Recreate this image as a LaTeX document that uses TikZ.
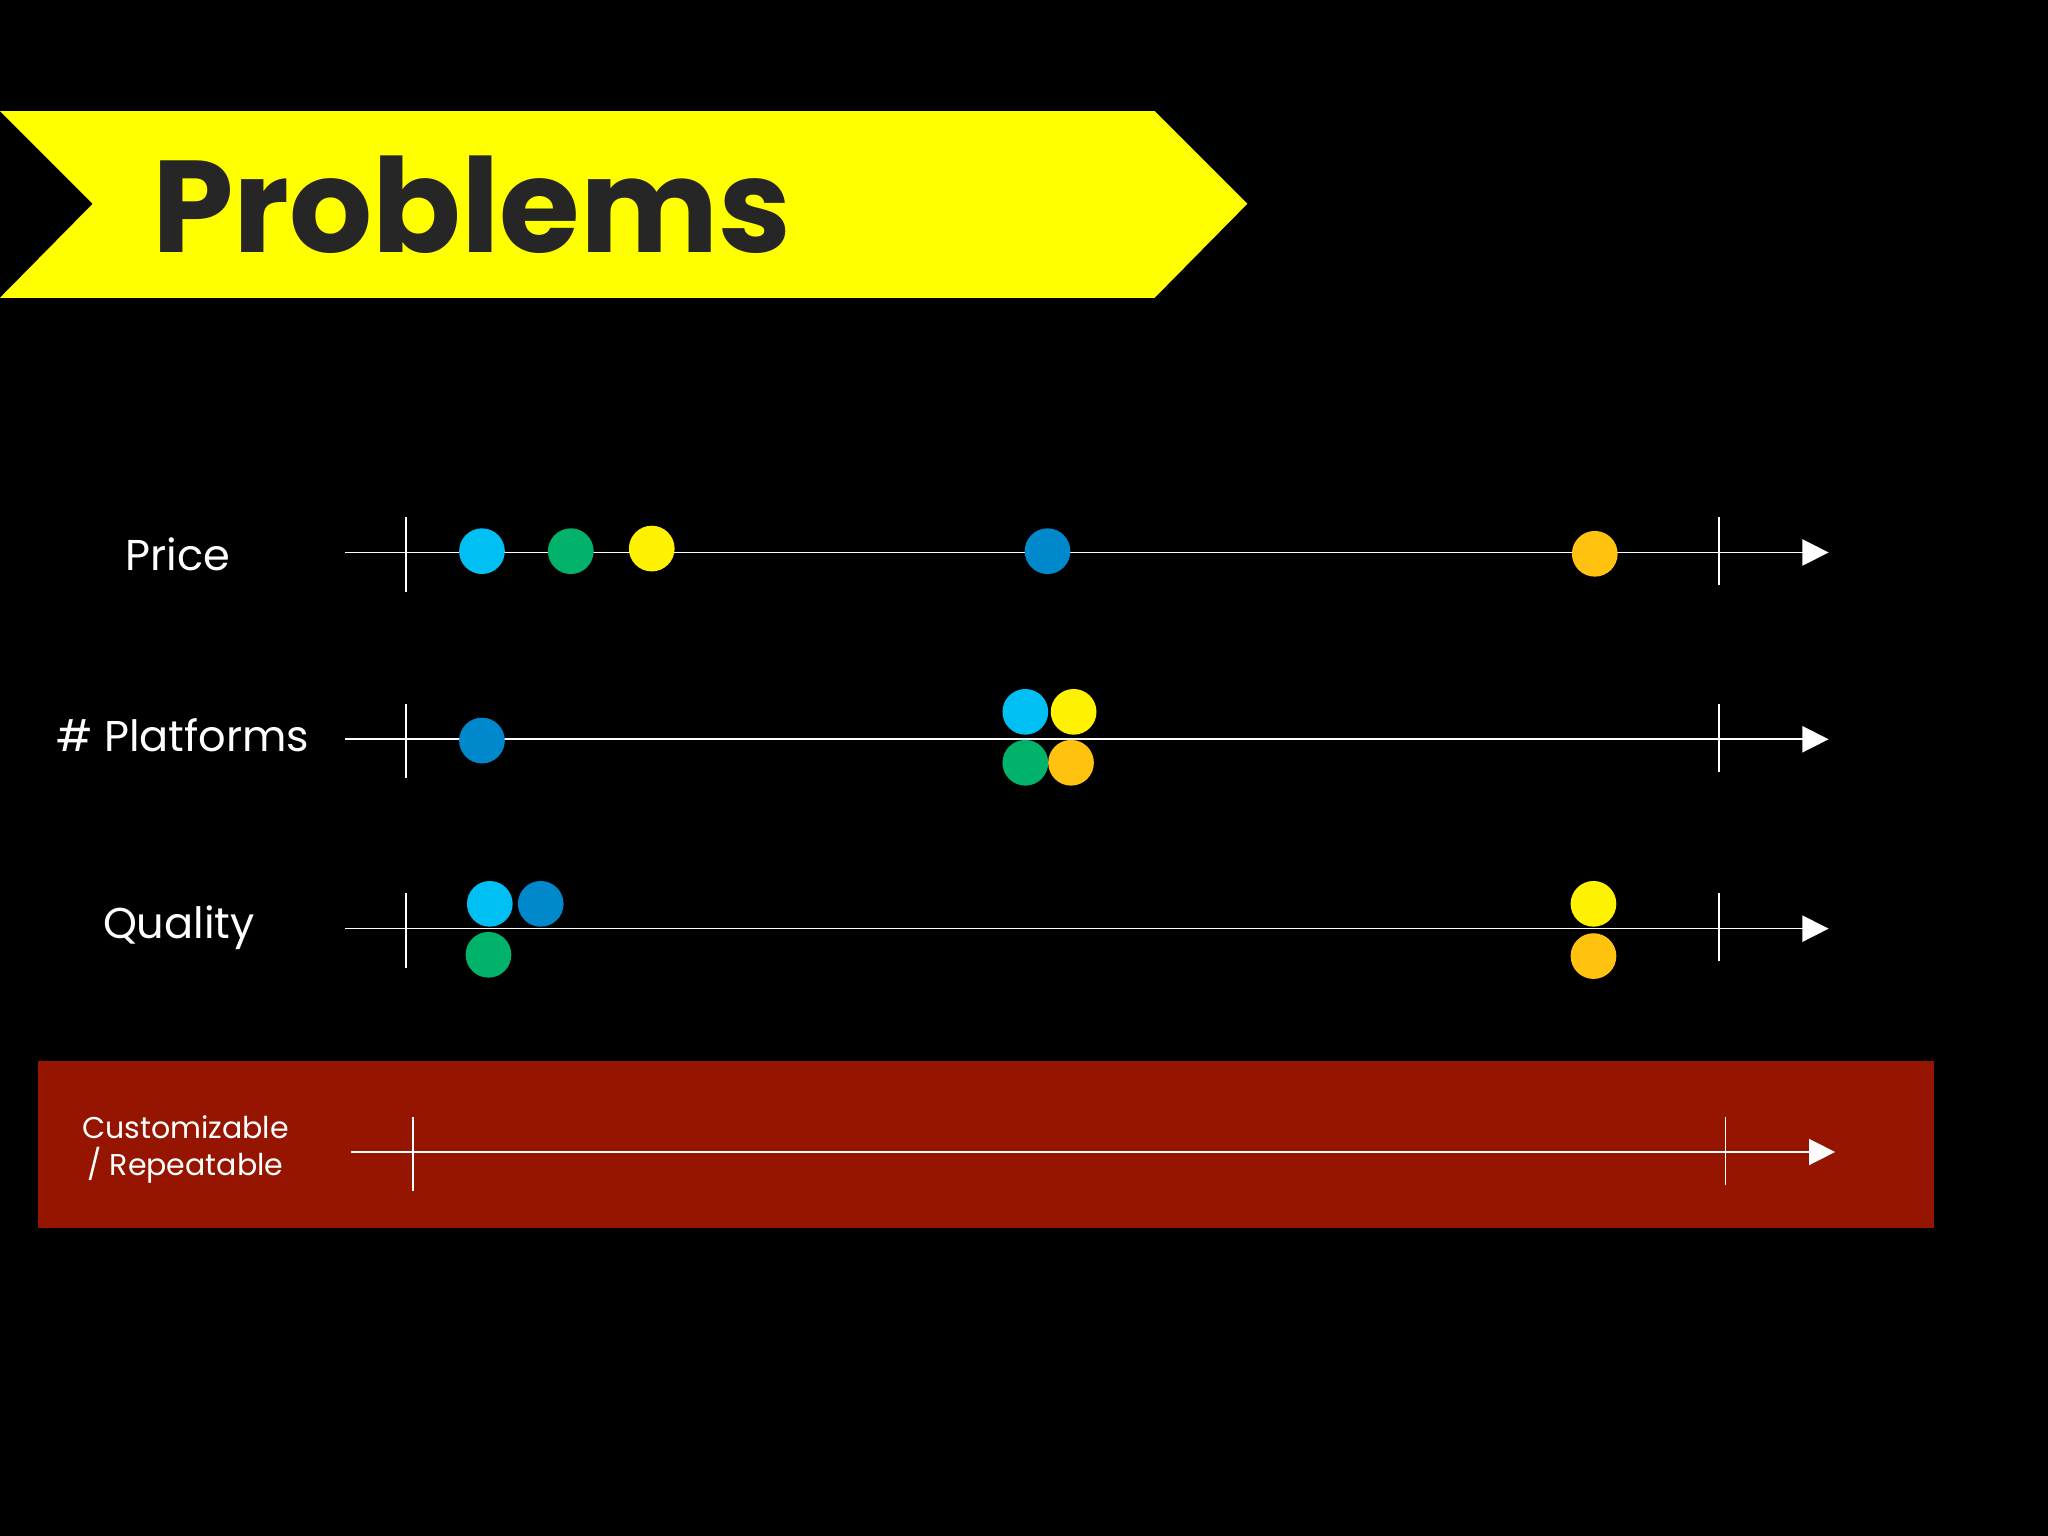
\documentclass[tikz,border=0pt]{standalone}
\usepackage{fontspec}
\setmainfont{Poppins}
\usetikzlibrary{arrows.meta}
\definecolor{ban}{HTML}{FFFF00}
\definecolor{redbox}{HTML}{951500}
\definecolor{dcyan}{HTML}{00BFF3}
\definecolor{dgreen}{HTML}{00B26A}
\definecolor{dyellow}{HTML}{FFF200}
\definecolor{dblue}{HTML}{0088CC}
\definecolor{dorange}{HTML}{FFC20E}
\tikzset{
 dot/.style={circle,fill=#1,minimum size=17.5pt,inner sep=0pt},
 axis/.style={white,line width=0.6pt,-{Triangle[length=10pt,width=10pt]}},
 tick/.style={white,line width=0.6pt},
 lab/.style={white,font=\fontsize{16.5}{20}\selectfont}
}
\begin{document}
\begin{tikzpicture}[x=0.5pt,y=-0.5pt]
\fill[black] (0,0) rectangle (1568,1176);
\useasboundingbox (0,0) rectangle (1568,1176);
\fill[ban] (0,85) -- (884,85) -- (955,156) -- (884,228) -- (0,228) -- (71,156) -- cycle;
\node[anchor=base west,inner sep=0pt,text=black!85,font=\fontsize{50}{60}\selectfont\bfseries] (title) at (116,193) {Problems};
\fill[redbox] (29,812) rectangle (1481,940);
% rows
\foreach \n/\y/\xs/\xe/\ta/\tb in {p/423/311/1316/0/0, f/566/311/1316/0/0, q/711/311/1316/0/0, c/882/316/1321/0/0}{
 \coordinate (\n s) at (\xs-47,\y);
 \coordinate (\n e) at (\xe+84,\y);
 \draw[axis] (\n s) -- (\n e);
 \coordinate (\n t1a) at (\xs,\y-27); \coordinate (\n t1b) at (\xs,\y+30);
 \coordinate (\n t2a) at (\xe,\y-27); \coordinate (\n t2b) at (\xe,\y+25);
 \draw[tick] (\n t1a) -- (\n t1b);
 \draw[tick] (\n t2a) -- (\n t2b);
}
\node[lab] (lp) at (136,424) {Price};
\node[lab] (lf) at (140,563) {\# Platforms};
\node[lab] (lq) at (137,710) {Quality};
\node[white,align=center,font=\fontsize{11.5}{14}\selectfont] (lc) at (142,880) {Customizable\\ / Repeatable};
% dots
\node[dot=dcyan] (p1) at (369,422) {};
\node[dot=dgreen] (p2) at (437,422) {};
\node[dot=dyellow] (p3) at (499,420) {};
\node[dot=dblue] (p4) at (802,422) {};
\node[dot=dorange] (p5) at (1221,424) {};
\node[dot=dblue] (f1) at (369,567) {};
\node[dot=dcyan] (f2) at (785,545) {};
\node[dot=dyellow] (f3) at (822,545) {};
\node[dot=dgreen] (f4) at (785,584) {};
\node[dot=dorange] (f5) at (820,584) {};
\node[dot=dcyan] (q1) at (375,692) {};
\node[dot=dblue] (q2) at (414,692) {};
\node[dot=dgreen] (q3) at (374,731) {};
\node[dot=dyellow] (q4) at (1220,692) {};
\node[dot=dorange] (q5) at (1220,732) {};
\end{tikzpicture}
\end{document}
